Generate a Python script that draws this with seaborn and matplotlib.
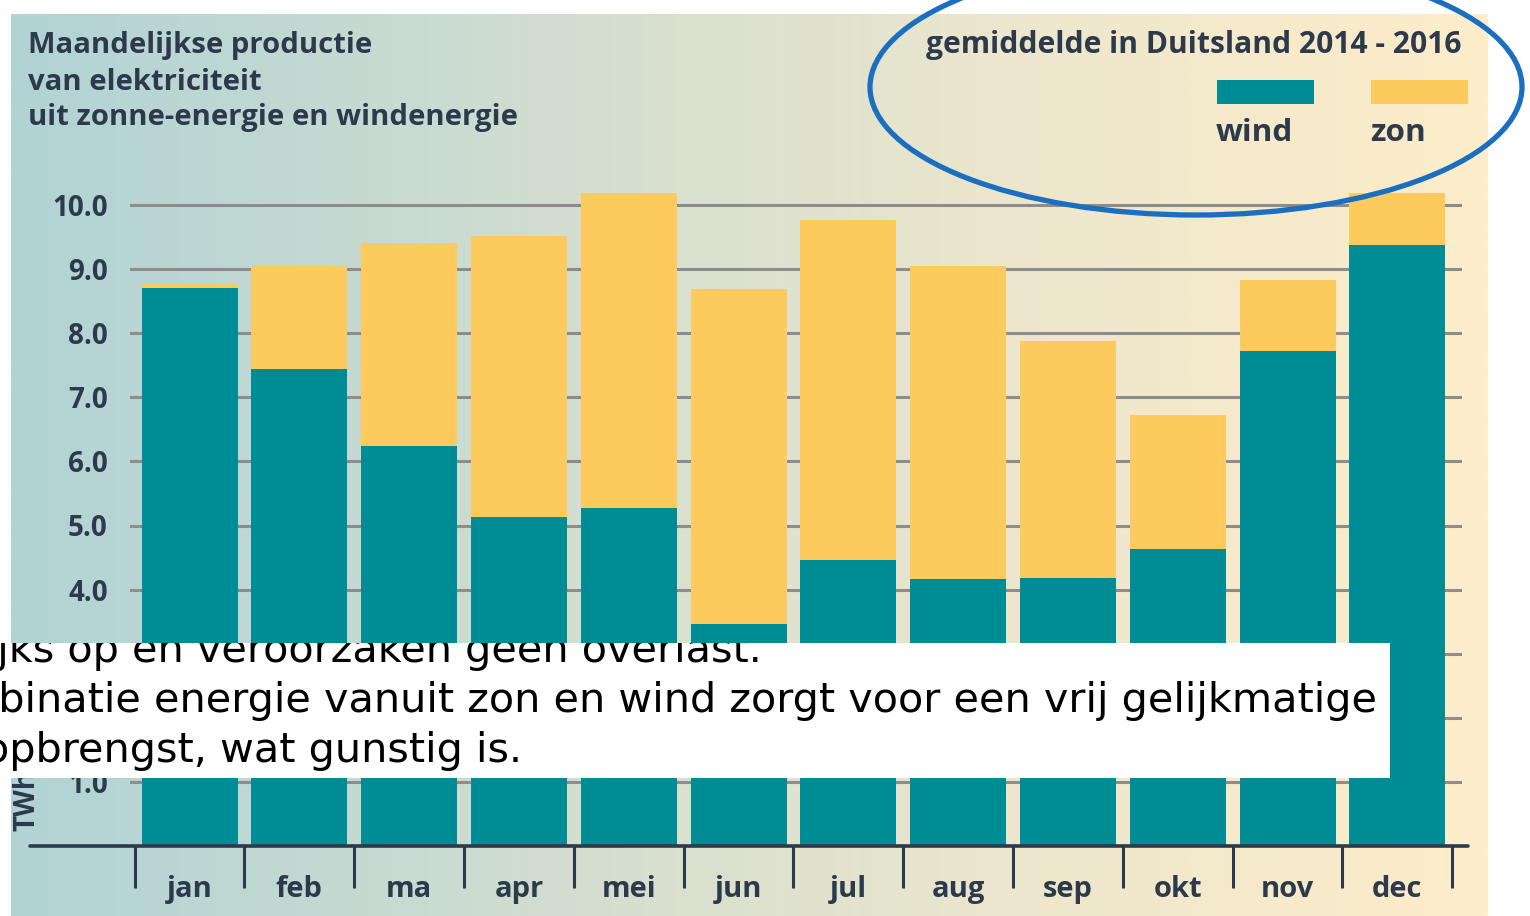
import numpy as np
import pandas as pd
import matplotlib
matplotlib.use("Agg")
import matplotlib.pyplot as plt
import seaborn as sns
from matplotlib.patches import Rectangle, Ellipse
from matplotlib.colors import LinearSegmentedColormap

# ---------------- data ----------------
months = ["jan", "feb", "ma", "apr", "mei", "jun", "jul", "aug", "sep", "okt", "nov", "dec"]
wind = [8.70, 7.44, 6.24, 5.13, 5.27, 3.46, 4.46, 4.17, 4.18, 4.63, 7.72, 9.38]
zon = [0.08, 1.61, 3.17, 4.39, 4.92, 5.23, 5.31, 4.88, 3.70, 2.09, 1.11, 0.81]
yticks = [1, 2, 3, 4, 5, 6, 7, 8, 9, 10]
title_lines = ["Maandelijkse productie", "van elektriciteit", "uit zonne-energie en windenergie"]
legend_title = "gemiddelde in Duitsland 2014 - 2016"
overlay_lines = ["nauwelijks op en veroorzaken geen overlast.",
                 "combinatie energie vanuit zon en wind zorgt voor een vrij gelijkmatige",
                 "opbrengst, wat gunstig is."]

TEAL = "#008c95"
YELLOW = "#fdca5e"
DARK = "#2c3a4c"
GRID = "#8e8c8c"

sns.set_style("white")
plt.rcParams["font.family"] = ["Open Sans", "DejaVu Sans"]

W, H = 1530, 916
fig = plt.figure(figsize=(W / 100, H / 100), dpi=100)
fig.patch.set_facecolor("white")

def fx(px):
    return px / W

def fy(py):
    return 1 - py / H

# ---------------- gradient panel ----------------
bg = fig.add_axes([fx(11), 0, fx(1488) - fx(11), fy(14)], zorder=0)
cmap = LinearSegmentedColormap.from_list(
    "bg", [(0, "#b1d3d5"), (0.45, "#d9e0cf"), (0.7, "#eee7cd"), (1, "#fdedca")])
bg.imshow(np.linspace(0, 1, 512)[None, :], aspect="auto", cmap=cmap, extent=[0, 1, 0, 1])
bg.set_axis_off()

# ---------------- main axes ----------------
ppu = (846 - 205) / 10.0  # pixels per unit
ymax = 10.5
ax_left, ax_right = 130, 1462
ax = fig.add_axes([fx(ax_left), fy(846), fx(ax_right) - fx(ax_left), ymax * ppu / H], zorder=1)
ax.patch.set_alpha(0)

df = pd.DataFrame({"maand": months, "wind": wind, "zon": zon})
df["totaal"] = df["wind"] + df["zon"]

bw = 96 / 109.8
sns.barplot(data=df, x="maand", y="totaal", color=YELLOW, saturation=1, width=bw,
            linewidth=0, ax=ax, zorder=2)
sns.barplot(data=df, x="maand", y="wind", color=TEAL, saturation=1, width=bw,
            linewidth=0, ax=ax, zorder=3)

x0 = (ax_left - 189.5) / 109.8
x1 = (ax_right - 189.5) / 109.8
ax.set_xlim(x0, x1)
ax.set_ylim(0, ymax)
ax.set_xlabel("")
ax.set_ylabel("")
for s in ax.spines.values():
    s.set_visible(False)

ax.set_yticks(yticks)
ax.set_yticklabels([f"{v:.1f}" for v in yticks])
ax.yaxis.grid(True, color=GRID, linewidth=2.2, zorder=0)
ax.set_axisbelow(True)
ax.tick_params(axis="y", left=False, length=0, pad=16, labelsize=20, labelcolor=DARK)
for t in ax.get_yticklabels():
    t.set_fontweight("bold")
    # labels 2.0 and 3.0 lie completely under the pasted white text box
    if t.get_text() in ("2.0", "3.0"):
        t.set_visible(False)

ax.set_xticks(range(len(months)))
ax.set_xticklabels(months)
ax.set_xticks(np.arange(-0.5, len(months), 1.0), minor=True)
ax.tick_params(axis="x", which="major", bottom=True, length=0, pad=21, labelsize=21,
               labelcolor=DARK)
ax.tick_params(axis="x", which="minor", bottom=True, length=30, width=2.2, color=DARK,
               direction="out")
for t in ax.get_xticklabels():
    t.set_fontweight("bold")

axw = ax_right - ax_left
ax.axhline(0, xmin=(30 - ax_left) / axw, xmax=(1468 - ax_left) / axw, color=DARK,
           linewidth=2.6, clip_on=False, zorder=4)

# ---------------- titles / legend ----------------
fig.canvas.draw()
renderer = fig.canvas.get_renderer()

def fit(t, target):
    w = t.get_window_extent(renderer).width
    t.set_fontsize(t.get_fontsize() * target / w)

ty = [45, 82, 118]
tts = []
for line, y in zip(title_lines, ty):
    tts.append(fig.text(fx(28), fy(y), line, ha="left", va="center", fontsize=18,
                        fontweight="bold", color=DARK, zorder=5))
fit(tts[0], 344)
for t in tts[1:]:
    t.set_fontsize(tts[0].get_fontsize())

lt = fig.text(fx(1462), fy(45), legend_title, ha="right", va="center", fontsize=18,
              fontweight="bold", color=DARK, zorder=5)
fit(lt, 535)
fig.patches.append(Rectangle((fx(1217), fy(104)), fx(1314) - fx(1217), (104 - 80) / H,
                             transform=fig.transFigure, facecolor=TEAL, edgecolor="none", zorder=5))
fig.patches.append(Rectangle((fx(1371), fy(104)), fx(1468) - fx(1371), (104 - 80) / H,
                             transform=fig.transFigure, facecolor=YELLOW, edgecolor="none", zorder=5))
fig.text(fx(1254), fy(133), "wind", ha="center", va="center", fontsize=lt.get_fontsize() * 1.05,
         fontweight="bold", color=DARK, zorder=5)
fig.text(fx(1398), fy(133), "zon", ha="center", va="center", fontsize=lt.get_fontsize() * 1.05,
         fontweight="bold", color=DARK, zorder=5)

fig.text(fx(27), fy(831), "TWh", rotation=90, ha="center", va="bottom", fontsize=20,
         fontweight="bold", color=DARK, zorder=5)

# ---------------- overlay white box with text ----------------
box = Rectangle((0, fy(778)), fx(1390), (778 - 643) / H, transform=fig.transFigure,
                facecolor="white", edgecolor="none", zorder=10)
fig.patches.append(box)

probe = fig.text(0, 0, overlay_lines[1][3:], fontsize=26, family=["DejaVu Sans"])
fit(probe, 1377)
ofs = probe.get_fontsize()
probe.remove()

for line, yb, xr in zip(overlay_lines, [662, 712, 762], [762, 1377, 522]):
    t = fig.text(fx(xr), fy(yb), line, ha="right", va="baseline", fontsize=ofs,
                 family=["DejaVu Sans"], color="black", zorder=11)
    t.set_clip_path(box)

# ---------------- annotation ellipse ----------------
ell = Ellipse((fx(1196), fy(87)), 652 / W, 256 / H, transform=fig.transFigure,
              facecolor="none", edgecolor="#1a6fc1", linewidth=3.8, zorder=12)
fig.patches.append(ell)

fig.savefig("out.png", dpi=100)
